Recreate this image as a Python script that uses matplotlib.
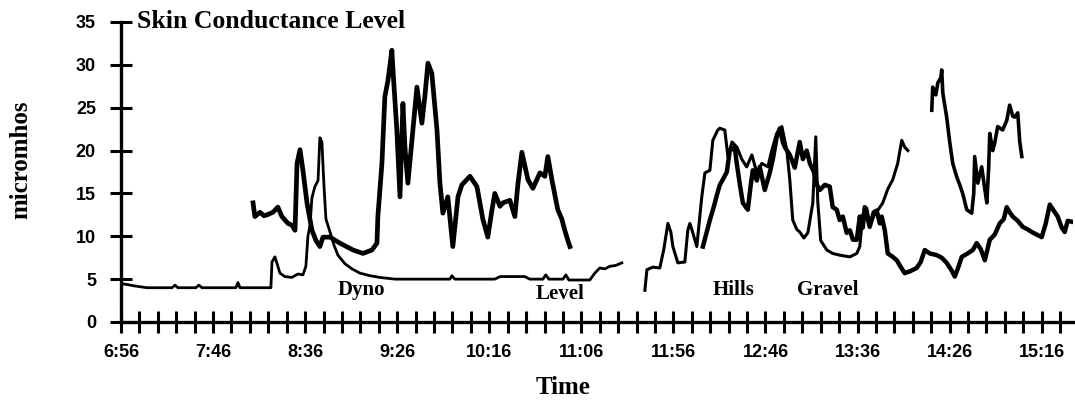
import matplotlib.pyplot as plt

# Skin conductance traces, time in minutes after 6:56
start_clock = 6 * 60 + 56

# morning driver, low baseline (Dyno / Level)
t_morning_a = [0, 7.6, 14.1, 27.7, 29.3, 30.9, 40.7, 42.3, 44.0, 62.4, 63.5, 64.6, 81.4, 82.0,
               83.6, 85.2, 86.3, 89.0, 92.8, 96.1, 98.8, 100.4, 101.5, 102.6, 103.7, 105.3,
               107.0, 108.0, 109.1, 110.2, 111.3, 113.5, 115.6, 117.8, 121.6, 125.4, 129.8,
               135.2, 140.6, 148.8, 162.3, 178.6, 179.7, 181.3, 203.0, 205.8, 219.3, 222.0,
               229.1, 230.7, 232.4, 240.0, 241.6, 243.2, 254.6, 257.3, 260.0, 262.8, 265.5,
               268.7, 272.0]
v_morning_a = [4.5, 4.2, 4.0, 4.0, 4.3, 4.0, 4.0, 4.3, 4.0, 4.0, 4.6, 4.0, 4.0, 7.0,
               7.6, 6.5, 5.7, 5.3, 5.2, 5.6, 5.5, 6.5, 10.0, 11.2, 14.5, 15.8,
               16.5, 21.5, 21.0, 16.0, 12.0, 10.5, 9.0, 7.8, 6.8, 6.2, 5.7,
               5.4, 5.2, 5.0, 5.0, 5.0, 5.4, 5.0, 5.0, 5.3, 5.3, 5.0,
               5.0, 5.5, 5.0, 5.0, 5.5, 4.9, 4.9, 5.7, 6.3, 6.2, 6.5,
               6.6, 6.9]

# morning driver, reactive trace
t_morning_b = [71.7, 72.7, 75.5, 77.6, 79.3, 82.5, 85.2, 87.4, 90.7, 92.8, 94.5, 95.6, 97.2,
               98.8, 101.0, 103.7, 105.9, 108.0, 109.7, 113.5, 118.9, 126.0, 131.4, 136.3,
               139.0, 139.5, 141.7, 143.3, 145.0, 147.1, 147.7, 149.8, 151.5, 153.1, 154.2,
               155.8, 158.0, 160.7, 163.4, 165.0, 166.7, 168.8, 171.6, 173.2, 174.8, 177.5,
               180.2, 183.0, 185.1, 189.5, 193.3, 196.5, 199.2, 201.4, 203.0, 205.8, 207.4,
               211.2, 213.9, 215.5, 217.7, 221.0, 223.7, 227.5, 230.2, 231.8, 234.0, 237.2,
               239.4, 241.0, 242.7, 243.8]
v_morning_b = [13.9, 12.3, 12.8, 12.4, 12.5, 12.8, 13.4, 12.3, 11.5, 11.3, 10.7, 18.5, 20.1,
               17.7, 13.9, 10.7, 9.5, 8.8, 9.9, 9.9, 9.2, 8.4, 8.0, 8.4,
               9.2, 12.3, 18.5, 26.3, 28.2, 31.7, 29.4, 22.4, 14.6, 25.5, 20.4,
               16.2, 21.2, 27.4, 23.2, 26.3, 30.2, 29.0, 22.4, 16.2, 12.7, 14.6,
               8.8, 14.6, 16.0, 17.0, 15.8, 12.0, 9.9, 13.0, 15.0, 13.5, 13.9,
               14.2, 12.3, 16.0, 19.8, 16.6, 15.6, 17.4, 17.0, 19.3, 16.6, 13.1,
               12.0, 10.7, 9.5, 8.8]

# afternoon driver (Hills / Gravel)
t_after_a = [284.5, 285.6, 288.8, 292.6, 294.8, 297.0, 298.6, 299.7, 302.4, 306.2, 307.8,
             308.9, 310.0, 312.7, 315.4, 317.1, 319.8, 321.4, 324.1, 325.2, 327.9, 329.6,
             331.8, 334.5, 337.1, 339.8, 342.6, 345.3, 348.0, 351.3, 353.4, 356.1, 358.9,
             361.6, 363.2, 364.8, 367.0, 368.6, 370.8, 373.0, 375.7, 377.3, 378.4, 380.0,
             383.3, 386.5, 390.3, 395.8, 399.6, 401.2, 402.8, 405.0, 406.6, 409.3, 413.7,
             416.4, 419.1, 421.8, 424.0, 425.6, 427.3]
v_after_a = [3.7, 6.1, 6.4, 6.3, 8.5, 11.5, 10.5, 8.8, 6.9, 7.0, 10.7,
             11.5, 10.8, 8.8, 14.6, 17.4, 17.7, 21.2, 22.4, 22.6, 22.4, 19.3,
             21.0, 20.4, 19.0, 18.1, 19.5, 17.4, 18.5, 18.1, 20.0, 22.0, 22.8,
             20.0, 16.6, 11.9, 10.8, 10.5, 9.8, 10.4, 13.9, 21.6, 14.0, 9.5,
             8.4, 8.0, 7.8, 7.6, 8.0, 8.8, 12.5, 13.3, 11.5, 12.5, 13.9,
             15.5, 16.6, 18.5, 21.2, 20.4, 20.0]

# afternoon driver, second trace running to the end of the day
t_after_b = [316.0, 318.1, 319.8, 322.0, 323.6, 325.2, 326.8, 329.0, 330.6, 333.3, 334.4,
             336.1, 337.7, 340.4, 342.0, 343.1, 345.3, 346.9, 349.6, 352.3, 354.0, 356.1,
             357.8, 359.4, 360.5, 363.2, 365.9, 368.6, 370.3, 372.4, 374.1, 376.3, 377.9,
             379.5, 382.2, 384.9, 386.5, 388.7, 390.3, 392.0, 394.1, 395.8, 397.5, 399.6,
             401.2, 402.8, 403.9, 406.6, 408.8, 410.4, 412.1, 413.1, 414.8, 416.4, 419.1,
             421.3, 423.5, 425.6, 428.3, 432.1, 434.3, 436.5, 439.2, 443.0, 445.7, 448.4,
             451.1, 452.8, 454.4, 456.6, 459.8, 462.6, 464.7, 466.9, 469.1, 471.8, 474.5,
             477.2, 479.4, 481.0, 482.6, 484.3, 487.0, 489.7, 492.4, 494.6, 497.3, 500.0,
             502.2, 504.4, 506.5, 508.7, 510.9, 512.5, 514.1, 516.3]
v_after_b = [8.8, 10.5, 11.9, 13.5, 14.8, 16.0, 16.6, 17.5, 20.0, 20.4, 18.5,
             16.0, 13.9, 13.1, 16.0, 17.7, 16.5, 18.1, 15.4, 17.4, 19.0, 21.6,
             22.6, 21.0, 20.4, 19.5, 18.0, 21.0, 19.0, 20.0, 18.5, 17.5, 16.0,
             15.4, 16.0, 15.8, 13.4, 13.1, 11.9, 12.3, 10.4, 10.7, 9.6, 9.6,
             12.3, 11.0, 13.4, 11.1, 12.8, 13.0, 11.5, 12.3, 10.7, 8.0, 7.6,
             7.2, 6.4, 5.7, 5.9, 6.3, 7.0, 8.4, 8.0, 7.8, 7.5, 6.9,
             6.0, 5.3, 6.2, 7.6, 8.0, 8.4, 9.2, 8.5, 7.2, 9.6, 10.2,
             11.5, 12.0, 13.4, 12.8, 12.3, 11.8, 11.1, 10.8, 10.5, 10.2, 9.9,
             11.5, 13.7, 13.0, 12.3, 11.0, 10.5, 11.8, 11.7]

# late segment, top right
t_late = [440.3, 440.8, 442.5, 443.6, 445.2, 445.7, 446.3, 448.4, 450.1, 451.7, 453.9,
          455.5, 457.1, 459.3, 462.0, 463.1, 463.6, 465.3, 467.4, 469.1, 470.2, 471.2,
          471.8, 473.4, 474.5, 476.1, 478.8, 481.0, 482.6, 484.3, 485.4, 487.0, 488.1, 489.2]
v_late = [24.7, 27.4, 26.5, 27.9, 28.5, 29.4, 26.7, 23.9, 20.9, 18.5, 16.9,
          16.0, 15.0, 13.1, 12.7, 15.0, 19.3, 16.2, 18.1, 15.5, 13.9, 18.0,
          22.0, 20.0, 20.9, 22.8, 22.4, 23.5, 25.3, 24.0, 23.9, 24.4, 21.0, 19.3]

# condition labels: (name, minute, level)
cond_names = ["Dyno", "Level", "Hills", "Gravel"]
cond_t = [130.8, 238.3, 332.8, 383.8]
cond_v = [3.7, 3.3, 3.7, 3.7]

label_step = 50
tick_step = 10

serif = "Liberation Serif"
sans = "Liberation Sans"

fig = plt.figure(figsize=(10.75, 4.08), dpi=100)
ax = fig.add_axes([121 / 1075, 86 / 408, 952 / 1075, 300 / 408])

ax.plot(t_morning_a, v_morning_a, color="black", lw=2.0, solid_joinstyle="round")
ax.plot(t_morning_b, v_morning_b, color="black", lw=3.4, solid_joinstyle="round")
ax.plot(t_after_a, v_after_a, color="black", lw=2.2, solid_joinstyle="round")
ax.plot(t_after_b, v_after_b, color="black", lw=3.2, solid_joinstyle="round")
ax.plot(t_late, v_late, color="black", lw=2.6, solid_joinstyle="round")

for name, t, v in zip(cond_names, cond_t, cond_v):
    ax.text(t, v, name, ha="center", va="center", fontsize=15,
            fontweight="bold", family=serif)

ax.set_xlim(0, 517)
ax.set_ylim(0, 35)
for side in ["top", "right"]:
    ax.spines[side].set_visible(False)
for side in ["left", "bottom"]:
    ax.spines[side].set_linewidth(2.4)

major = list(range(0, 501, label_step))
ax.set_xticks(major)
ax.set_xticklabels([f"{(start_clock + m) // 60}:{(start_clock + m) % 60:02d}" for m in major])
ax.set_xticks(list(range(0, 517, tick_step)), minor=True)
ax.set_yticks(list(range(0, 36, 5)))
ax.tick_params(axis="both", which="both", direction="inout", length=16, width=2.2)
ax.tick_params(axis="y", pad=10, labelsize=13)
ax.tick_params(axis="x", pad=8, labelsize=13)
for lab in ax.get_xticklabels() + ax.get_yticklabels():
    lab.set_family(sans)
    lab.set_fontweight("bold")

fig.text(137 / 1075, 1 - 21 / 408, "Skin Conductance Level", ha="left", va="center",
         fontsize=18.5, fontweight="bold", family=serif)
fig.text(21 / 1075, 1 - 160 / 408, "micromhos", rotation=90, ha="center", va="center",
         fontsize=18, fontweight="bold", family=serif)
fig.text(563 / 1075, 1 - 388 / 408, "Time", ha="center", va="center",
         fontsize=18, fontweight="bold", family=serif)

fig.savefig("out.png", dpi=100)
